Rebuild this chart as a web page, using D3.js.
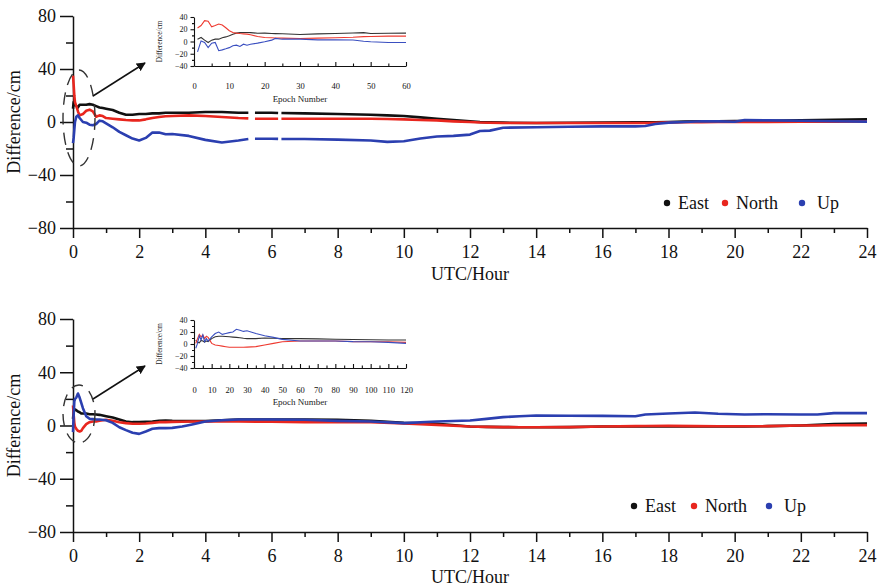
<!DOCTYPE html>
<html>
<head>
<meta charset="utf-8">
<script src="https://cdn.jsdelivr.net/npm/d3@7"></script>
<style>
  body { margin: 0; background: #fff; }
  svg { display: block; }
</style>
</head>
<body>
<svg width="878" height="588"></svg>
<script>
// ---- data ----
const seriesNames = ["East", "North", "Up"];
const seriesColors = ["#111111", "#e8261e", "#2b3fb0"];
const insetColors = ["#333333", "#ee3a30", "#3a4fc0"];
const serif = "'Liberation Serif', 'Times New Roman', serif";

// top panel, hours (null = gap in record)
const topHours = [0, 0.02, 0.04, 0.06, 0.1, 0.15, 0.2, 0.3, 0.4, 0.5, 0.6, 0.7, 0.8, 0.9, 1.0, 1.2, 1.4, 1.6, 1.8, 2.0,
  2.2, 2.4, 2.6, 2.8, 3.0, 3.5, 4.0, 4.5, 5.0, 5.3, 5.4, 5.5, 6.0, 6.2, 6.25, 6.3, 7, 8, 9, 9.5,
  10, 10.5, 11, 11.5, 12, 12.3, 12.6, 13, 14, 15, 16, 17, 17.3, 17.6, 18, 18.5, 19, 19.5, 20, 20.3,
  21, 22, 22.5, 23, 24];
const topEast = [10, 15, 14, 13, 12, 11, 13, 13, 13, 13.5, 13, 12, 11, 10.5, 10, 9, 7, 5.5, 5.5, 6,
  6, 6.5, 6.5, 7, 7, 7, 7.5, 7.5, 7, 7, null, 7, 7, 6.8, null, 6.8, 6.5, 6, 5.5, 5,
  4.5, 3.5, 2.5, 1.5, 0.5, 0, -0.3, -0.5, -0.7, -0.6, -0.5, -0.3, -0.3, -0.2, 0, 0.3, 0.5, 0.5, 0.8, 0.8,
  1, 1.2, 1.4, 1.6, 2];
const topNorth = [35, 28, 20, 15, 12, 8, 5, 6, 8.5, 9.3, 8, 4, 5, 4.5, 3, 2.5, 2, 1.5, 1.2, 1.2,
  2, 3, 3.8, 4.3, 4.5, 5, 4.5, 3.8, 3, 2.7, null, 2.5, 2.5, 2.5, null, 2.5, 2.5, 2.5, 2.5, 2.3,
  2, 1.5, 1.2, 0.5, 0, -0.4, -0.6, -0.7, -0.7, -0.8, -0.8, -0.8, -0.8, -0.6, -0.3, -0.2, -0.1, 0, 0.1, 0.1,
  0.1, 0.2, 0.2, 0.3, 0.5];
const topUp = [-16, -12, -6, 0, 4, 5, 3, 0, -0.5, -2, -2.5, -1.5, 1, 0.5, -1, -4, -7.5, -10, -12.5, -14,
  -12, -8, -8, -9.3, -9, -10.5, -13.5, -15.5, -14, -12.8, null, -12.6, -12.6, -12.7, null, -12.8, -12.8, -13.3, -14, -15,
  -14.5, -12.5, -11, -10.5, -9.5, -6.8, -6.5, -4.3, -4, -3.6, -3.3, -3.3, -3, -1.5, -0.5, 0, 0.6, 0.5, 0.2, 1.4,
  1.2, 1, 0.8, 0.6, 0.3];

// bottom panel, hours
const botHours = [0, 0.02, 0.04, 0.06, 0.1, 0.15, 0.2, 0.25, 0.3, 0.4, 0.5, 0.6, 0.7, 0.8, 1.0, 1.2, 1.4, 1.6, 1.8, 2.0,
  2.2, 2.4, 2.6, 2.8, 3.0, 3.3, 3.6, 4.0, 4.5, 5, 6, 7, 8, 9, 10, 11, 12, 12.5, 13, 13.5,
  14, 15, 16, 17, 17.3, 18, 18.8, 19.5, 20.3, 21, 22, 22.5, 23, 24];
const botEast = [5, 10, 12, 12, 11.5, 10.5, 10, 9, 9, 9, 8.5, 8.5, 8.3, 8, 7, 6, 4.5, 3, 2.5, 2.5,
  2.8, 3, 3.5, 3.8, 3.5, 3.3, 3.3, 3.3, 4, 4.5, 4.5, 4.5, 4.2, 3.5, 2, 1.3, -0.8, -1, -1.2, -1.3,
  -1.3, -1.2, -0.8, -0.7, -0.7, -0.7, -0.7, -0.7, -0.7, -0.5, 0, 0.5, 1, 1.5];
const botNorth = [15, 8, 2, -1, -2.5, -4, -4.5, -4, -2, 1, 2.5, 3, 3, 3.5, 4.3, 3.5, 2.5, 1.8, 1.3, 1.3,
  1.5, 2, 2.5, 2.5, 2.7, 2.8, 3, 3, 3, 3, 2.8, 2.5, 2.5, 2.5, 1.5, 0.5, -0.8, -1, -1.2, -1.3,
  -1.3, -1.2, -0.8, -0.5, -0.4, -0.3, -0.5, -0.6, -0.6, -0.5, 0, 0, 0.2, 0.3];
const botUp = [-5, 8, 18, 20, 21, 24, 21, 17, 13, 7, 5, 4.8, 4.5, 4.5, 4, 2, -1.3, -3.5, -5.5, -6.3,
  -4.5, -2.5, -2, -2, -1.8, -0.8, 0.8, 3, 4, 4.5, 4.5, 4.3, 3.5, 3, 1.8, 3, 3.8, 5, 6.3, 7,
  7.5, 7.3, 7.2, 7, 8.3, 9, 9.8, 8.8, 8.3, 8.5, 8.3, 8.3, 9.3, 9.3];

// insets, epoch number
const topEpochs = [1, 2, 3, 4, 5, 6, 7, 8, 9, 10, 11, 12, 13, 14, 15, 16, 18, 20, 22, 23, 25, 30, 35, 40, 45, 48, 50, 55, 60];
const topInsetEast = [3.8, 6.6, 2.2, -1.6, 2.2, 3.8, 3.8, 6, 7.5, 9.3, 12, 13.7, 14.5, 14.8, 14.8, 14.5, 13.5, 13.7, 13, 12.8, 12.6, 11.5, 12.5, 13, 14, 14.5, 13, 13.5, 13.7];
const topInsetNorth = [22, 26, 34, 33, 24, 26, 28.5, 27, 22.5, 17.5, 14.8, 13.7, 13, 12.5, 12, 11, 8.2, 6.6, 6, 5.8, 5.5, 5, 5.5, 6, 7, 8, 8.2, 8.8, 8.8];
const topInsetUp = [-17, 1, -1.6, -10, -2.7, -1.6, -15, -13.7, -12, -10, -7, -6, -8, -4.4, -6, -4.4, -2.7, -0.5, 2.2, 5, 3.8, 3.8, 2.7, 2.7, 2.5, 0.5, -0.5, -1.6, -1.6];

const botEpochs = [1, 2, 3, 4, 5, 6, 7, 8, 10, 12, 14, 16, 18, 20, 22, 24, 26, 28, 30, 35, 40, 45, 50, 60, 70, 80, 90, 100, 110, 120];
const botInsetEast = [6.6, 3, 2, 6, 5, 3, 5, 4, 9, 12, 13, 13, 12.5, 12, 11.5, 11, 10.5, 9.5, 9, 9, 10, 9.5, 9, 9, 8.5, 8, 7.5, 7, 6.6, 6.6];
const botInsetNorth = [1, 9, 16, 12, 15, 9, 13, 11, 1, -1.6, -2.5, -3.5, -4.5, -5.5, -5.5, -5.5, -5.5, -5.5, -5.2, -4.4, -1.6, 1, 3.8, 5, 5, 5, 4, 3.8, 3.8, 2.7];
const botInsetUp = [-7, 1, 13.7, 6.6, 15, 3.8, 9, 5, 12, 17.5, 20, 16, 17.5, 19, 20, 24.6, 23, 21, 22, 17.5, 13.7, 11, 7.7, 5, 5, 5, 4, 3.8, 2.7, 1];

const hourTicks = d3.range(0, 25, 2);
const diffTicks = [-80, -40, 0, 40, 80];

const svg = d3.select("svg").attr("font-family", serif);
svg.append("rect").attr("width", 878).attr("height", 588).attr("fill", "#fff");

// arrowhead marker
svg.append("defs").append("marker")
  .attr("id", "arrow").attr("viewBox", "0 0 10 10")
  .attr("refX", 9).attr("refY", 5)
  .attr("markerWidth", 9).attr("markerHeight", 9)
  .attr("markerUnits", "userSpaceOnUse")
  .attr("orient", "auto")
  .append("path").attr("d", "M0,0 L10,5 L0,10 Z").attr("fill", "#111");

// d3 axis puts sans-serif on its group, so set the serif face explicitly
const styleAxis = (g, fontSize) => {
  g.attr("font-family", serif).attr("font-size", fontSize);
  g.select(".domain").attr("stroke", "#111").attr("stroke-width", 1.5);
  g.selectAll(".tick line").attr("stroke", "#111").attr("stroke-width", 1.5);
  g.selectAll(".tick text").attr("fill", "#111").attr("font-family", serif);
};

function drawPanel(p) {
  const g = svg.append("g");
  const x = d3.scaleLinear().domain([0, 24]).range([73, 867]);
  const y = d3.scaleLinear().domain([-80, 80]).range([p.y0, p.y1]);

  // minor ticks first, then major axis
  g.append("g").attr("transform", `translate(0,${p.y0})`)
    .call(d3.axisBottom(x).tickValues(d3.range(1, 24, 2)).tickSize(5).tickFormat(""))
    .call((a) => { a.select(".domain").remove(); styleAxis(a, 18); });
  g.append("g").attr("transform", `translate(0,${p.y0})`)
    .call(d3.axisBottom(x).tickValues(hourTicks).tickSize(10).tickSizeOuter(0).tickPadding(7))
    .call((a) => styleAxis(a, 18));
  g.append("g").attr("transform", "translate(73,0)")
    .call(d3.axisLeft(y).tickValues([-60, -20, 20, 60]).tickSize(7).tickFormat(""))
    .call((a) => { a.select(".domain").remove(); styleAxis(a, 18); });
  g.append("g").attr("transform", "translate(73,0)")
    .call(d3.axisLeft(y).tickValues(diffTicks).tickSize(13).tickSizeOuter(0).tickPadding(4))
    .call((a) => styleAxis(a, 18));

  g.append("text").attr("x", 470).attr("y", p.xLabelY).attr("text-anchor", "middle")
    .attr("font-size", 18).attr("fill", "#111").text("UTC/Hour");
  g.append("text").attr("transform", `translate(20,${y(0)}) rotate(-90)`).attr("text-anchor", "middle")
    .attr("font-size", 18).attr("fill", "#111").text("Difference/cm");

  // series lines
  const line = d3.line()
    .defined((d) => d[1] !== null)
    .x((d) => x(d[0]))
    .y((d) => y(d[1]));
  p.series.forEach((vals, i) => {
    g.append("path")
      .datum(p.hours.map((h, k) => [h, vals[k]]))
      .attr("fill", "none")
      .attr("stroke", seriesColors[i])
      .attr("stroke-width", 2.6)
      .attr("stroke-linejoin", "round")
      .attr("d", line);
  });

  // legend
  const lg = g.append("g");
  seriesNames.forEach((name, i) => {
    lg.append("circle").attr("cx", p.legend[i]).attr("cy", p.legendY).attr("r", 3.2).attr("fill", seriesColors[i]);
    lg.append("text").attr("x", p.legend[i] + (i === 2 ? 15 : 11)).attr("y", p.legendY + 6)
      .attr("font-size", 18).attr("fill", "#111").text(name);
  });

  // dashed ellipse + arrow
  g.append("ellipse").attr("cx", p.ellipse[0]).attr("cy", p.ellipse[1])
    .attr("rx", p.ellipse[2]).attr("ry", p.ellipse[3])
    .attr("fill", "none").attr("stroke", "#333").attr("stroke-width", 1.4)
    .attr("stroke-dasharray", "12,8");
  g.append("line").attr("x1", p.arrow[0]).attr("y1", p.arrow[1]).attr("x2", p.arrow[2]).attr("y2", p.arrow[3])
    .attr("stroke", "#111").attr("stroke-width", 1.5).attr("marker-end", "url(#arrow)");

  drawInset(p.inset);
}

function drawInset(s) {
  const g = svg.append("g");
  const x = d3.scaleLinear().domain([0, s.maxEpoch]).range([194, 406]);
  const y = d3.scaleLinear().domain([-40, 40]).range([s.y0, s.y1]);

  g.append("g").attr("transform", `translate(0,${s.y0})`)
    .call(d3.axisBottom(x).tickValues(d3.range(5, s.maxEpoch, 10)).tickSize(-2.5).tickFormat(""))
    .call((a) => { a.select(".domain").remove(); styleAxis(a, 8.5); });
  g.append("g").attr("transform", `translate(0,${s.y0})`)
    .call(d3.axisBottom(x).tickValues(d3.range(0, s.maxEpoch + 1, 10)).tickSize(-4).tickSizeOuter(0).tickPadding(s.pad))
    .call((a) => styleAxis(a, 8.5));
  g.append("g").attr("transform", "translate(194,0)")
    .call(d3.axisLeft(y).tickValues([-30, -10, 10, 30]).tickSize(2).tickFormat(""))
    .call((a) => { a.select(".domain").remove(); styleAxis(a, 8); });
  g.append("g").attr("transform", "translate(194,0)")
    .call(d3.axisLeft(y).tickValues([-40, -20, 0, 20, 40]).tickSize(3.5).tickSizeOuter(0).tickPadding(3))
    .call((a) => styleAxis(a, 8));
  g.selectAll(".domain, .tick line").attr("stroke-width", 1.1);

  g.append("text").attr("x", 300).attr("y", s.y0 + s.labelDy).attr("text-anchor", "middle")
    .attr("font-size", 9).attr("fill", "#222").text("Epoch Number");
  g.append("text").attr("transform", `translate(162,${y(0)}) rotate(-90) scale(0.85,1)`).attr("text-anchor", "middle")
    .attr("font-size", 8.5).attr("fill", "#222").text("Difference/cm");

  const line = d3.line().x((d) => x(d[0])).y((d) => y(d[1]));
  s.series.forEach((vals, i) => {
    g.append("path")
      .datum(s.epochs.map((e, k) => [e, vals[k]]))
      .attr("fill", "none")
      .attr("stroke", insetColors[i])
      .attr("stroke-width", 1.1)
      .attr("d", line);
  });
}

drawPanel({
  y0: 228, y1: 16, xLabelY: 280,
  hours: topHours, series: [topEast, topNorth, topUp],
  legendY: 203, legend: [667, 725, 802],
  ellipse: [79, 118, 16, 48], arrow: [93, 96, 145, 63],
  inset: { maxEpoch: 60, y0: 66, y1: 17, pad: 17, labelDy: 36,
    epochs: topEpochs, series: [topInsetEast, topInsetNorth, topInsetUp] }
});
drawPanel({
  y0: 532, y1: 319, xLabelY: 583,
  hours: botHours, series: [botEast, botNorth, botUp],
  legendY: 506, legend: [634, 694, 769],
  ellipse: [79, 414, 16, 29], arrow: [93, 399, 145, 366],
  inset: { maxEpoch: 120, y0: 368, y1: 320, pad: 19, labelDy: 37,
    epochs: botEpochs, series: [botInsetEast, botInsetNorth, botInsetUp] }
});
</script>
</body>
</html>
